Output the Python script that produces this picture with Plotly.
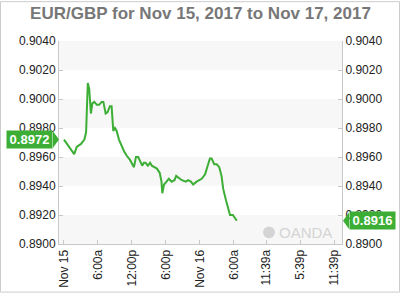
import pandas as pd
import plotly.graph_objects as go

# ---- data ----
hours = [0.0, 1.8, 2.25, 3.0, 3.6, 3.9, 4.2, 4.45, 4.75, 5.0, 5.35, 5.8, 6.2, 6.65, 6.95,
         7.35, 7.7, 8.1, 8.4, 8.7, 9.0, 9.3, 9.7, 10.2, 10.6, 11.05, 11.65, 12.35, 12.7,
         13.1, 13.5, 13.8, 14.1, 14.4, 14.8, 15.2, 15.5, 15.9, 16.4, 16.9, 17.2, 17.35,
         17.65, 18.1, 18.5, 19.0, 19.5, 19.8, 20.2, 20.8, 21.5, 21.9, 22.4, 22.8, 23.4,
         23.8, 24.3, 24.9, 25.45, 25.75, 26.05, 26.5, 26.95, 27.4, 27.8, 28.1, 28.6, 29.0,
         29.3, 29.8, 30.2, 30.5]
rates = [0.8972, 0.8962, 0.8967, 0.8969, 0.8972, 0.8977, 0.9011, 0.9007, 0.8990, 0.8997,
         0.8998, 0.8996, 0.8996, 0.8998, 0.8998, 0.8990, 0.8991, 0.8995, 0.8995, 0.8978,
         0.8980, 0.8978, 0.8972, 0.8967, 0.8964, 0.8961, 0.8958, 0.8953, 0.8960, 0.8960,
         0.8957, 0.8954, 0.8956, 0.8956, 0.8954, 0.8956, 0.8954, 0.8953, 0.8952, 0.8949,
         0.8943, 0.8935, 0.8941, 0.8943, 0.8945, 0.8943, 0.8944, 0.8947, 0.8946, 0.8944,
         0.8943, 0.8944, 0.8943, 0.8941, 0.8943, 0.8944, 0.8945, 0.8948, 0.8955, 0.8959,
         0.8959, 0.8955, 0.8955, 0.8953, 0.8947, 0.8938, 0.8930, 0.8925, 0.8920, 0.8920,
         0.8918, 0.8916]
tick_hours = [0, 6, 12, 18, 24, 30, 35.65, 41.65, 47.65]
tick_labels = ["Nov 15", "6:00a", "12:00p", "6:00p", "Nov 16", "6:00a", "11:39a", "5:39p", "11:39p"]
y_min, y_max, y_step = 0.8900, 0.9040, 0.0020
open_rate = "0.8972"
last_rate = "0.8916"
title = "EUR/GBP for Nov 15, 2017 to Nov 17, 2017"

base = pd.Timestamp("2017-11-15 00:00")
xs = base + pd.to_timedelta(hours, unit="h")
tick_x = base + pd.to_timedelta(tick_hours, unit="h")
x_range = [base + pd.Timedelta(hours=-0.88), base + pd.Timedelta(hours=49.06)]

GREEN = "#3dae35"
AXIS = "#c8c8c8"
W, H = 400, 300
ML, MR, MT, MB = 59, 58, 41, 50
PW, PH = W - ML - MR, H - MT - MB

fig = go.Figure()
fig.add_trace(go.Scatter(x=xs, y=rates, mode="lines",
                         line=dict(color=GREEN, width=2), hoverinfo="skip", showlegend=False))
fig.add_trace(go.Scatter(x=xs, y=rates, mode="lines", yaxis="y2",
                         line=dict(color="rgba(0,0,0,0)", width=0), hoverinfo="skip", showlegend=False))

shapes = []
# alternating bands
n = int(round((y_max - y_min) / y_step))
for i in range(n):
    if i % 2 == 0:
        shapes.append(dict(type="rect", xref="paper", yref="y", x0=0, x1=1,
                           y0=y_min + i * y_step, y1=y_min + (i + 1) * y_step,
                           fillcolor="#f7f7f7", line=dict(width=0), layer="below"))
# outer border
shapes.append(dict(type="rect", xref="paper", yref="paper",
                   x0=-(ML - 0.5) / PW, x1=1 + (MR - 0.5) / PW,
                   y0=-(MB - 0.5) / PH, y1=1 + (MT - 0.5) / PH,
                   line=dict(color="#cccccc", width=1), fillcolor="rgba(0,0,0,0)"))
# badge arrows
px = 1.0 / PW
dy = 8.5 * (y_max - y_min) / PH
yo = float(open_rate)
yl = float(last_rate)
shapes.append(dict(type="path", xref="paper", yref="y",
                   path=f"M {-6*px} {yo-dy} L {0*px} {yo} L {-6*px} {yo+dy} Z",
                   fillcolor=GREEN, line=dict(width=0)))
shapes.append(dict(type="path", xref="paper", yref="y",
                   path=f"M {1+7*px} {yl-dy} L {1+1*px} {yl} L {1+7*px} {yl+dy} Z",
                   fillcolor=GREEN, line=dict(width=0)))
# OANDA logo circle
shapes.append(dict(type="circle", xref="paper", yref="paper",
                   x0=(263 - ML) / PW, x1=(275 - ML) / PW,
                   y0=(H - MB - 244) / PH, y1=(H - MB - 232) / PH,
                   fillcolor="#d4d4d4", line=dict(width=0)))

annotations = [
    dict(text=open_rate, xref="paper", yref="y", x=-6 * px, y=yo, xanchor="right", yanchor="middle",
         showarrow=False, bgcolor=GREEN, font=dict(color="white", size=13, family="Liberation Sans, Arial", weight="bold"),
         borderpad=0, height=17, width=45),
    dict(text=last_rate, xref="paper", yref="y", x=1 + 7 * px, y=yl, xanchor="left", yanchor="middle",
         showarrow=False, bgcolor=GREEN, font=dict(color="white", size=13, family="Liberation Sans, Arial", weight="bold"),
         borderpad=0, height=17, width=45),
    dict(text="OANDA", xref="paper", yref="paper", x=(277 - ML) / PW, y=(H - MB - 238.5) / PH,
         xanchor="left", yanchor="middle", showarrow=False,
         font=dict(color="#d4d4d4", size=15, family="Liberation Sans, Arial")),
]

tickfont = dict(family="Liberation Sans, Arial", size=12, color="#222222")
fig.update_layout(
    width=W, height=H,
    margin=dict(l=ML, r=MR, t=MT, b=MB),
    paper_bgcolor="white", plot_bgcolor="white",
    title=dict(text=title, x=0.5, xref="paper", xanchor="center", y=1 - 13 / H, yanchor="middle",
               font=dict(family="Liberation Sans, Arial", size=17, color="#777777", weight="bold")),
    xaxis=dict(type="date", range=x_range, tickvals=tick_x, ticktext=tick_labels, tickangle=-90,
               tickfont=tickfont, showgrid=False, zeroline=False, showline=True, linecolor=AXIS,
               ticks="inside", ticklen=4, tickcolor=AXIS),
    yaxis=dict(range=[y_min, y_max], dtick=y_step, tick0=y_min, tickformat=".4f", tickfont=tickfont,
               showgrid=False, zeroline=False, showline=True, linecolor=AXIS,
               ticks="inside", ticklen=4, tickcolor=AXIS),
    yaxis2=dict(range=[y_min, y_max], dtick=y_step, tick0=y_min, tickformat=".4f", tickfont=tickfont,
                overlaying="y", side="right", showgrid=False, zeroline=False, showline=True,
                linecolor=AXIS, ticks="inside", ticklen=4, tickcolor=AXIS),
    shapes=shapes, annotations=annotations, showlegend=False,
)

fig.write_html("out.html")
